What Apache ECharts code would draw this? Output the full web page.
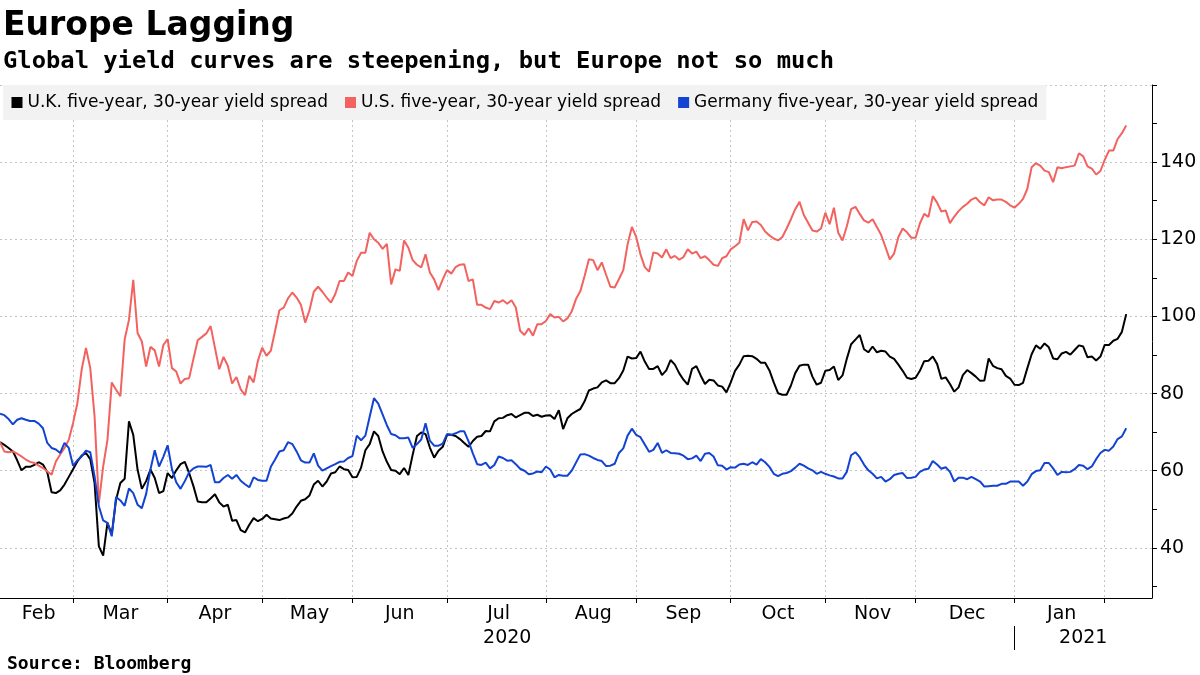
<!DOCTYPE html>
<html><head><meta charset="utf-8">
<script src="https://cdn.jsdelivr.net/npm/echarts@6/dist/echarts.min.js"></script>
<style>html,body{margin:0;padding:0;background:#fff}#c{width:1200px;height:675px}</style>
</head><body><div id="c"></div>
<script>
// ---- data ----
const startDate = '2020-02-06';
const endDate = '2021-02-16';
const seriesNames = ['U.K. five-year, 30-year yield spread', 'U.S. five-year, 30-year yield spread', 'Germany five-year, 30-year yield spread'];
const seriesColors = ['#000000', '#f2625f', '#1243d2'];
const ukSpread = [
67.4,66.7,65.9,65.0,62.7,60.1,61.0,61.0,61.5,62.2,61.6,59.6,54.4,54.2,54.9,56.4,58.4,60.4,62.4,63.9,
64.6,63.0,56.8,40.4,38.0,46.5,43.5,52.5,56.8,57.9,72.8,69.3,60.3,55.3,57.3,60.3,58.1,54.2,54.7,59.4,
58.1,60.1,61.7,62.3,59.4,56.0,52.0,51.8,51.8,52.8,53.9,51.8,50.7,51.2,47.0,47.2,44.6,44.0,46.0,47.7,
46.9,47.5,48.6,47.6,47.4,47.2,47.6,47.9,48.9,50.7,52.2,52.6,53.6,56.4,57.4,55.9,57.2,59.3,59.6,61.1,
60.4,60.2,58.3,58.4,60.8,65.3,66.9,70.2,69.0,65.0,62.3,60.2,60.0,59.1,60.7,58.9,64.1,69.0,69.9,69.5,
66.0,63.4,65.2,66.2,69.3,69.3,69.0,68.2,67.2,66.2,67.7,68.8,69.0,70.3,70.2,72.8,73.6,73.7,74.4,74.7,
73.8,74.4,75.0,75.0,74.2,74.5,74.0,74.3,74.4,73.4,75.7,70.8,73.6,74.7,75.4,76.0,78.0,80.8,81.3,81.6,
82.9,83.4,82.7,82.7,84.0,86.0,89.6,89.1,89.2,90.9,88.3,86.4,86.4,87.1,84.8,86.0,88.7,87.5,85.3,83.6,
82.3,86.4,87.1,84.7,82.5,83.6,83.4,82.1,81.8,80.3,82.9,85.9,87.5,89.7,89.8,89.7,89.0,88.0,88.0,86.0,
82.9,80.1,79.7,79.7,82.1,85.3,87.2,87.5,87.5,84.4,82.3,82.8,85.9,86.1,87.0,83.5,84.7,89.0,92.8,94.0,
95.2,91.5,90.7,92.2,90.7,91.1,90.9,89.6,89.0,87.5,85.9,84.1,83.8,84.1,85.9,88.4,88.5,89.6,87.7,83.8,
84.2,82.5,80.5,81.6,84.8,86.1,85.3,84.4,83.3,83.4,89.1,87.2,86.6,86.3,84.6,83.9,82.3,82.2,82.8,86.6,
90.2,92.5,91.6,93.0,92.0,89.1,88.9,90.4,90.8,90.1,91.3,92.5,92.2,89.4,89.6,88.6,89.6,92.6,92.6,93.7,
94.2,96.0,100.6];
const usSpread = [
67.4,65.0,64.8,65.0,64.4,63.7,62.9,62.3,62.0,61.3,60.7,59.8,59.0,62.4,64.2,65.9,68.0,72.4,77.5,86.2,
91.8,86.6,74.1,51.6,61.1,68.0,82.9,81.0,79.3,94.0,99.1,109.5,95.7,93.5,87.0,92.1,91.2,87.0,92.6,94.1,
86.6,85.7,82.6,83.8,84.0,89.0,93.8,94.7,95.6,97.5,91.9,86.3,89.5,87.2,82.6,84.3,81.1,79.6,84.6,82.9,
88.5,91.9,89.8,91.1,96.3,101.6,102.3,104.7,106.2,104.9,103.0,98.4,101.6,106.4,107.7,106.4,104.9,103.6,105.8,109.2,
109.2,111.4,110.5,114.4,116.5,116.5,121.7,120.0,119.1,117.5,118.8,108.3,112.2,111.8,119.7,117.8,114.6,113.4,112.7,116.1,
111.4,109.6,106.8,109.6,112.0,111.1,112.8,113.4,113.5,109.2,109.6,103.0,103.0,102.3,101.9,104.0,103.6,104.2,103.3,104.2,
102.3,96.3,95.2,96.9,95.0,98.0,98.0,98.8,100.6,99.7,99.9,98.7,99.5,101.3,104.5,106.5,110.5,114.8,114.6,112.0,
114.0,110.8,107.7,107.5,109.7,112.0,118.7,123.2,120.6,116.1,112.8,111.6,116.6,116.3,115.3,117.4,115.1,115.7,114.7,115.4,
117.4,116.3,116.8,115.1,115.6,114.6,113.4,113.1,115.1,115.6,117.4,118.2,119.1,125.2,122.3,124.5,124.6,123.7,122.0,121.0,
120.2,119.7,120.6,122.8,125.2,127.8,129.7,126.3,124.3,122.3,122.0,122.8,126.9,123.9,128.2,121.7,119.7,123.4,127.8,128.4,
126.6,124.9,124.3,125.2,123.2,121.1,118.0,114.8,116.3,120.6,122.8,121.8,120.4,120.4,124.1,126.6,125.8,131.2,129.5,127.2,
127.5,124.2,125.9,127.3,128.4,129.2,130.3,130.8,129.6,128.8,130.9,130.1,130.3,130.3,129.7,128.8,128.2,129.2,130.5,133.1,
138.7,139.7,139.1,137.8,137.4,134.8,138.7,138.4,138.7,138.9,139.1,142.3,141.5,138.9,138.3,136.8,137.7,140.6,143.0,143.0,
146.0,147.5,149.5];
const deSpread = [
74.8,74.4,73.4,72.0,73.2,73.6,73.2,72.9,72.9,72.2,71.0,67.2,65.9,65.5,64.6,67.2,65.9,61.3,62.7,63.7,
65.2,64.8,58.5,50.8,47.1,46.5,43.0,53.2,52.3,50.9,55.4,54.2,51.2,50.3,54.0,60.3,65.3,61.1,63.6,66.6,
60.4,57.0,55.3,57.3,59.6,60.6,61.1,61.1,61.0,61.5,57.0,57.0,58.1,58.9,57.9,58.9,57.4,56.5,55.7,58.3,
57.6,57.4,57.4,61.0,62.9,65.0,65.3,67.4,66.9,65.0,62.7,62.1,62.1,64.5,61.3,60.0,60.6,61.2,61.7,62.3,
62.4,63.3,63.8,69.1,67.9,69.1,74.0,78.8,77.4,74.6,71.8,69.5,69.2,68.4,68.4,68.6,65.9,66.9,68.1,72.3,
67.8,66.5,66.5,67.0,69.5,69.3,69.7,70.2,70.2,67.6,64.5,61.7,61.5,62.1,60.6,61.5,63.7,63.3,62.6,62.7,
61.7,60.5,60.0,59.1,59.3,59.8,59.6,61.1,60.3,58.3,58.9,58.7,58.7,60.0,62.1,64.2,64.3,63.9,63.3,62.8,
62.5,61.2,61.3,61.8,64.6,65.8,69.1,70.9,69.3,68.7,66.8,64.9,65.4,67.2,64.6,65.3,64.6,64.5,64.4,63.9,
63.0,63.2,63.9,62.5,64.4,64.6,63.7,61.4,61.3,60.3,60.9,60.8,61.6,61.8,61.5,62.2,61.6,63.0,62.2,61.0,
59.2,58.6,59.2,59.4,59.9,60.8,61.8,61.3,60.6,60.1,59.2,59.7,59.2,58.8,58.5,58.0,58.0,59.7,64.0,64.8,
63.5,61.6,60.1,59.2,58.0,58.4,57.2,57.8,58.9,59.2,59.4,58.1,58.2,58.4,59.7,60.3,60.5,62.5,61.6,60.5,
60.9,59.7,57.2,58.2,58.2,57.8,58.4,57.8,57.2,55.9,56.0,56.1,56.1,56.6,56.6,57.2,57.2,57.2,56.1,57.2,
59.1,59.9,60.1,62.0,62.0,60.6,58.9,59.7,59.6,59.7,60.4,61.5,61.3,60.4,61.1,63.0,64.6,65.4,65.2,66.3,
68.2,68.9,71.0];
const yLabelValues = [40, 60, 80, 100, 120, 140];
const yTickValues = [30, 40, 50, 60, 70, 80, 90, 100, 110, 120, 130, 140, 150, 160];
const yGridValues = [40, 60, 80, 100, 120, 140, 160];
const monthNames = ['Jan','Feb','Mar','Apr','May','Jun','Jul','Aug','Sep','Oct','Nov','Dec'];

// ---- business-day category axis ----
function businessDays(s, e) {
  const out = [];
  let d = new Date(s + 'T00:00:00Z');
  const end = new Date(e + 'T00:00:00Z');
  while (d <= end) {
    const w = d.getUTCDay();
    if (w !== 0 && w !== 6) out.push(d.toISOString().slice(0, 10));
    d = new Date(d.getTime() + 86400000);
  }
  return out;
}
const categories = businessDays(startDate, endDate);
const last = categories.length - 1;
const monthStarts = new Set();
for (let i = 1; i < categories.length; i++) {
  if (categories[i].slice(0, 7) !== categories[i - 1].slice(0, 7)) monthStarts.add(i);
}
const bounds = [0, ...Array.from(monthStarts), last];
const monthLabelIdx = new Map();
for (let k = 0; k < bounds.length - 1; k++) {
  const a = bounds[k], b = bounds[k + 1];
  if (b - a >= 14) {
    monthLabelIdx.set(Math.round((a + b) / 2), monthNames[parseInt(categories[a].slice(5, 7), 10) - 1]);
  }
}
let yearBoundary = 0;
for (let i = 1; i < categories.length; i++) {
  if (categories[i].slice(0, 4) !== categories[i - 1].slice(0, 4)) yearBoundary = i;
}
const yearLabelIdx = new Map();
yearLabelIdx.set(Math.round(yearBoundary / 2), categories[0].slice(0, 4));
yearLabelIdx.set(Math.round((yearBoundary + last) / 2), categories[last].slice(0, 4));

const FONT = '"DejaVu Sans", sans-serif';
const MONO = '"DejaVu Sans Mono", monospace';

const chart = echarts.init(document.getElementById('c'), null, {renderer: 'canvas'});
const lineSeries = [ukSpread, usSpread, deSpread].map((d, k) => ({
  name: seriesNames[k],
  type: 'line',
  data: d,
  showSymbol: false,
  symbol: 'none',
  lineStyle: {width: 2, color: seriesColors[k]},
  itemStyle: {color: seriesColors[k]},
  z: 3,
  animation: false
}));

chart.setOption({
  animation: false,
  backgroundColor: '#ffffff',
  graphic: [
    {type: 'text', left: 3, top: 10, style: {text: 'Europe Lagging', font: 'bold 33px ' + FONT, fill: '#000'}},
    {type: 'text', left: 3, top: 50, style: {text: 'Global yield curves are steepening, but Europe not so much', font: 'bold 23.8px ' + MONO, fill: '#000'}},
    {type: 'text', left: 7, top: 655, style: {text: 'Source: Bloomberg', font: 'bold 18px ' + MONO, fill: '#000'}}
  ],
  legend: {
    left: 3, top: 85,
    data: seriesNames,
    icon: 'rect',
    itemWidth: 11, itemHeight: 11, itemGap: 17,
    padding: [8, 8, 8, 8.5],
    backgroundColor: '#f2f2f2',
    textStyle: {fontFamily: FONT, fontSize: 17, color: '#000', lineHeight: 19},
    selectedMode: false
  },
  grid: {left: 0, right: 48, top: 85, bottom: 77, containLabel: false},
  xAxis: [{
    type: 'category',
    data: categories,
    boundaryGap: false,
    axisLine: {show: true, lineStyle: {color: '#000', width: 1}},
    axisTick: {show: true, interval: (i) => monthStarts.has(i), length: 5, lineStyle: {color: '#000'}},
    axisLabel: {
      interval: (i) => monthLabelIdx.has(i),
      formatter: (v, i) => monthLabelIdx.get(i) || '',
      fontFamily: FONT, fontSize: 19, color: '#000', margin: 7
    },
    splitLine: {show: true, interval: (i) => monthStarts.has(i), lineStyle: {color: '#c4c4c4', type: [2, 3], width: 1}}
  }, {
    type: 'category',
    data: categories,
    boundaryGap: false,
    position: 'bottom',
    offset: 28,
    axisLine: {show: false},
    axisTick: {show: true, interval: (i) => i === yearBoundary, length: 24, lineStyle: {color: '#000'}},
    axisLabel: {
      interval: (i) => yearLabelIdx.has(i),
      formatter: (v, i) => yearLabelIdx.get(i) || '',
      fontFamily: FONT, fontSize: 19, color: '#000', margin: 3
    },
    splitLine: {show: false}
  }],
  yAxis: {
    type: 'value',
    position: 'right',
    min: 27, max: 160,
    splitNumber: 7,
    axisLine: {show: true, lineStyle: {color: '#000', width: 1}},
    axisTick: {show: true, customValues: yTickValues, length: 5, lineStyle: {color: '#000'}},
    axisLabel: {customValues: yLabelValues, fontFamily: FONT, fontSize: 19, color: '#000', margin: 8},
    splitLine: {show: false}
  },
  series: [{
    type: 'line',
    data: [],
    silent: true,
    z: 1,
    markLine: {
      silent: true, z: 1, symbol: 'none', animation: false,
      label: {show: false},
      lineStyle: {color: '#c4c4c4', type: [2, 3], width: 1},
      data: yGridValues.map(v => ({yAxis: v}))
    }
  }].concat(lineSeries)
});
</script></body></html>
